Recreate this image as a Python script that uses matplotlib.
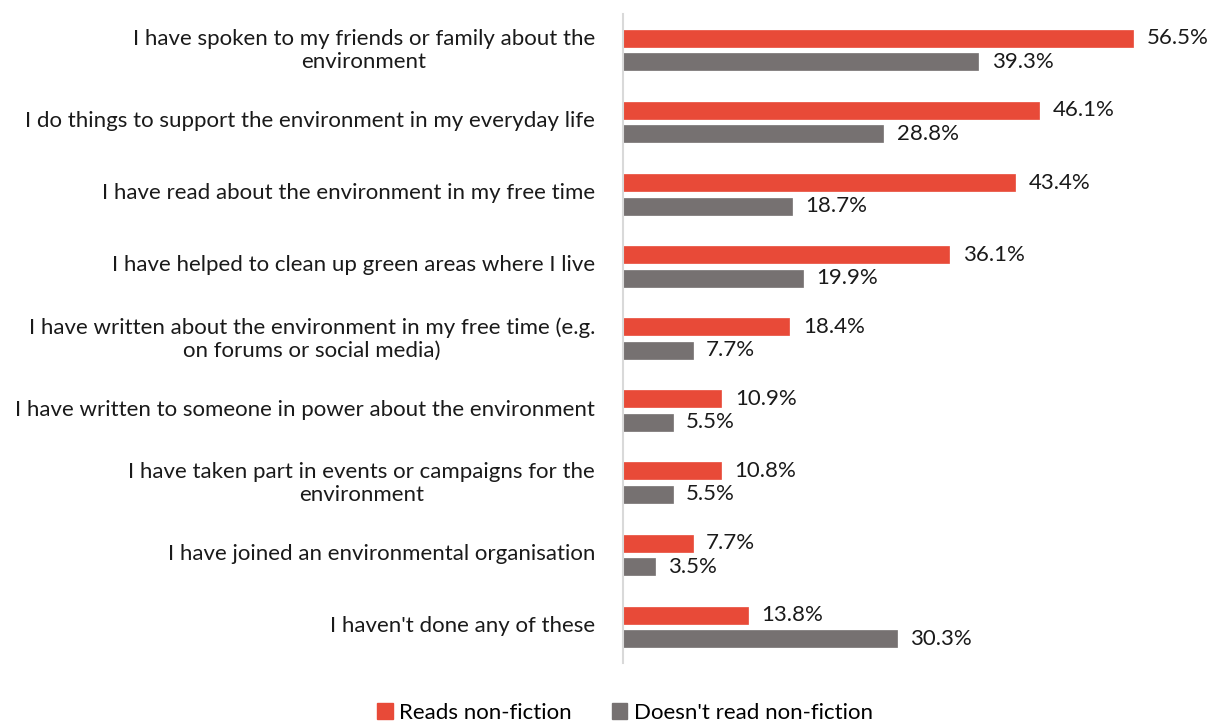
import matplotlib
matplotlib.use("Agg")
import matplotlib.pyplot as plt
import matplotlib.transforms as mtransforms
import numpy as np
from matplotlib.patches import Patch

categories = [
    "I have spoken to my friends or family about the\nenvironment",
    "I do things to support the environment in my everyday life",
    "I have read about the environment in my free time",
    "I have helped to clean up green areas where I live",
    "I have written about the environment in my free time (e.g.\non forums or social media)",
    "I have written to someone in power about the environment",
    "I have taken part in events or campaigns for the\nenvironment",
    "I have joined an environmental organisation",
    "I haven't done any of these",
]
reads = [56.5, 46.1, 43.4, 36.1, 18.4, 10.9, 10.8, 7.7, 13.8]
not_reads = [39.3, 28.8, 18.7, 19.9, 7.7, 5.5, 5.5, 3.5, 30.3]
series_names = ["Reads non-fiction", "Doesn't read non-fiction"]

RED = "#E84A38"
GREY = "#767171"
FS = 16

plt.rcParams["font.family"] = ["Lato", "DejaVu Sans"]

fig = plt.figure(figsize=(12.12, 7.22), dpi=100)
ax = fig.add_axes([623 / 1212, 59 / 722, 542 / 1212, 649 / 722])

y = np.arange(len(categories))
h = 0.235
off = 0.163
ax.barh(y - off, reads, height=h, color=RED, edgecolor=RED, linewidth=0.5)
ax.barh(y + off, not_reads, height=h, color=GREY, edgecolor=GREY, linewidth=0.5)

for yi, v in zip(y, reads):
    ax.text(v + 1.5, yi - off, f"{v:.1f}%", va="center", ha="left",
            fontsize=FS, color="#1a1a1a", clip_on=False)
for yi, v in zip(y, not_reads):
    ax.text(v + 1.5, yi + off, f"{v:.1f}%", va="center", ha="left",
            fontsize=FS, color="#1a1a1a", clip_on=False)

ax.set_xlim(0, 60)
ax.set_ylim(len(categories) - 0.5, -0.5)
ax.set_yticks(y)
ax.set_yticklabels(categories, fontsize=FS, color="#1a1a1a",
                   multialignment="center", linespacing=1.2)
ax.tick_params(axis="y", length=0, pad=20)
ax.set_xticks([])

# nudge the category labels up slightly
lift = mtransforms.ScaledTranslation(0, 3 / 100, fig.dpi_scale_trans)
for lab in ax.get_yticklabels():
    lab.set_transform(lab.get_transform() + lift)

for s in ["top", "right", "bottom"]:
    ax.spines[s].set_visible(False)
ax.spines["left"].set_color("#D9D9D9")
ax.spines["left"].set_linewidth(1.5)

handles = [Patch(color=RED), Patch(color=GREY)]
fig.legend(handles, series_names, loc="center",
           bbox_to_anchor=(625 / 1212, 9 / 722), ncol=2, frameon=False,
           fontsize=FS, handlelength=0.7, handleheight=0.7,
           handletextpad=0.3, columnspacing=1.8)

fig.savefig("out.png", dpi=100)
